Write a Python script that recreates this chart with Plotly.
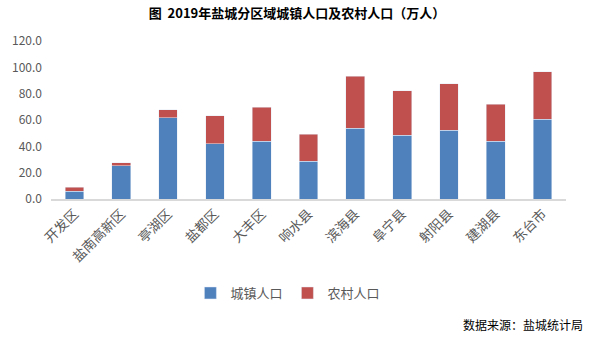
import plotly.graph_objects as go

categories = ["开发区", "盐南高新区", "亭湖区", "盐都区", "大丰区", "响水县",
              "滨海县", "阜宁县", "射阳县", "建湖县", "东台市"]
urban = [6.0, 25.1, 61.9, 41.8, 43.8, 28.7, 53.8, 48.3, 52.3, 43.8, 60.4]
total = [9.1, 27.4, 67.9, 63.4, 69.7, 49.1, 93.1, 82.3, 87.5, 71.9, 96.6]
rural = [round(t - u, 1) for t, u in zip(total, urban)]
y_ticks = [0, 20, 40, 60, 80, 100, 120]

FONT = "Noto Sans CJK SC"

fig = go.Figure()
fig.add_trace(go.Bar(x=categories, y=urban, name="城镇人口", marker_color="#4F81BD"))
fig.add_trace(go.Bar(x=categories, y=rural, name="农村人口", marker_color="#C0504D"))

fig.update_layout(
    barmode="stack",
    bargap=0.6,
    width=594, height=342,
    margin=dict(l=46, r=28, t=41, b=143),
    paper_bgcolor="white", plot_bgcolor="white",
    font=dict(family=FONT, color="#595959", size=11),
    title=dict(text="<b>图  2019年盐城分区域城镇人口及农村人口（万人）</b>",
               x=0.5, xanchor="center", y=0.96, yanchor="middle",
               font=dict(family=FONT, size=13, color="#000000")),
    showlegend=True,
    legend=dict(orientation="h", x=0.46, xanchor="center", y=-0.595, yanchor="middle",
                font=dict(family=FONT, size=13, color="#595959"),
                itemwidth=30, traceorder="normal"),
    xaxis=dict(tickangle=-45, showline=True, linecolor="#D9D9D9", linewidth=1.5,
               ticks="", showgrid=False, tickfont=dict(size=13.5, color="#595959")),
    yaxis=dict(range=[0, 120], tickvals=y_ticks,
               ticktext=[f"{v:.1f}" for v in y_ticks],
               showgrid=False, showline=False, zeroline=False, ticks="",
               ticklabelstandoff=8,
               tickfont=dict(size=12, color="#595959")),
    annotations=[dict(text="数据来源：盐城统计局", xref="paper", yref="paper",
                      x=1.037, xanchor="right", y=-0.797, yanchor="middle",
                      showarrow=False, font=dict(family=FONT, size=12, color="#000000"))],
)

fig.write_html("out.html")
